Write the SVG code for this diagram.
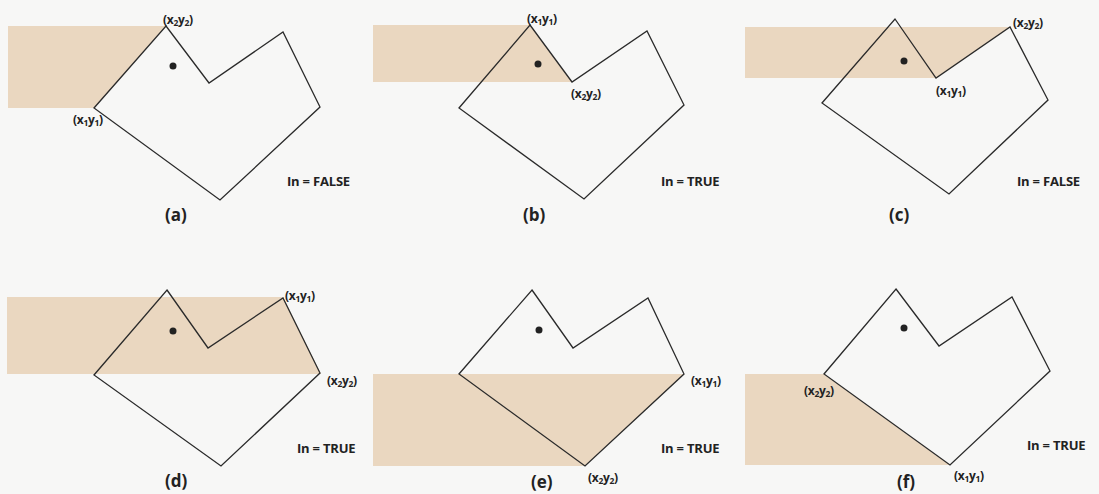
<svg xmlns="http://www.w3.org/2000/svg" width="1099" height="494" viewBox="0 0 1099 494">
<style>
.bg{fill:#f7f7f6}
.shade{fill:#ead7c0}
.poly{fill:none;stroke:#2a2a2a;stroke-width:1.3;stroke-linejoin:miter}
.dot{fill:#222}
.lbl{font-family:"Open Sans","Liberation Sans",sans-serif;font-size:12px;font-weight:700;fill:#222;letter-spacing:-0.3px}
.sub{font-size:8.5px}
.res{font-family:"Open Sans","Liberation Sans",sans-serif;font-size:13px;font-weight:700;fill:#222;letter-spacing:-0.2px}
.cap{font-family:"Open Sans","Liberation Sans",sans-serif;font-size:17px;font-weight:700;fill:#222}
</style>
<rect class="bg" x="0" y="0" width="1099" height="494"/>

<g id="panel-a">
<polygon class="shade" points="8,26 166,26 94,108 8,108"/>
<polygon class="poly" points="166,26 209,83 283,32 320,107 220,200 94,108"/>
<circle class="dot" cx="173" cy="66" r="3.5"/>
<text class="lbl" x="163" y="24">(x<tspan class="sub" dy="2">2</tspan><tspan dy="-2">y</tspan><tspan class="sub" dy="2">2</tspan><tspan dy="-2">)</tspan></text>
<text class="lbl" x="73" y="124">(x<tspan class="sub" dy="2">1</tspan><tspan dy="-2">y</tspan><tspan class="sub" dy="2">1</tspan><tspan dy="-2">)</tspan></text>
<text class="res" x="287" y="186">In = FALSE</text>
<text class="cap" x="165" y="221">(a)</text>
</g>

<g id="panel-b">
<polygon class="shade" points="373,25 530,25 572,82 373,82"/>
<polygon class="poly" points="530,25 572,82 647,31 684,105 584,199 459,108"/>
<circle class="dot" cx="538" cy="64" r="3.5"/>
<text class="lbl" x="527" y="23">(x<tspan class="sub" dy="2">1</tspan><tspan dy="-2">y</tspan><tspan class="sub" dy="2">1</tspan><tspan dy="-2">)</tspan></text>
<text class="lbl" x="571" y="98">(x<tspan class="sub" dy="2">2</tspan><tspan dy="-2">y</tspan><tspan class="sub" dy="2">2</tspan><tspan dy="-2">)</tspan></text>
<text class="res" x="661" y="186">In = TRUE</text>
<text class="cap" x="523" y="221">(b)</text>
</g>

<g id="panel-c">
<polygon class="shade" points="745,27 1010,27 936,78 745,78"/>
<polygon class="poly" points="895,19 936,78 1010,27 1048,100 949,194 822,103"/>
<circle class="dot" cx="904" cy="61" r="3.5"/>
<text class="lbl" x="1013" y="27">(x<tspan class="sub" dy="2">2</tspan><tspan dy="-2">y</tspan><tspan class="sub" dy="2">2</tspan><tspan dy="-2">)</tspan></text>
<text class="lbl" x="936" y="95">(x<tspan class="sub" dy="2">1</tspan><tspan dy="-2">y</tspan><tspan class="sub" dy="2">1</tspan><tspan dy="-2">)</tspan></text>
<text class="res" x="1017" y="186">In = FALSE</text>
<text class="cap" x="889" y="221">(c)</text>
</g>

<g id="panel-d">
<polygon class="shade" points="7,297 283,297 321,374 7,374"/>
<polygon class="poly" points="167,290 208,348 283,298 320,373 221,466 94,375"/>
<circle class="dot" cx="173" cy="331" r="3.5"/>
<text class="lbl" x="285" y="300">(x<tspan class="sub" dy="2">1</tspan><tspan dy="-2">y</tspan><tspan class="sub" dy="2">1</tspan><tspan dy="-2">)</tspan></text>
<text class="lbl" x="327" y="385">(x<tspan class="sub" dy="2">2</tspan><tspan dy="-2">y</tspan><tspan class="sub" dy="2">2</tspan><tspan dy="-2">)</tspan></text>
<text class="res" x="297" y="453">In = TRUE</text>
<text class="cap" x="165" y="487">(d)</text>
</g>

<g id="panel-e">
<polygon class="shade" points="373,374 684,374 585,466 373,466"/>
<polygon class="poly" points="532,290 573,348 648,298 684,374 585,466 459,374"/>
<circle class="dot" cx="539" cy="330" r="3.5"/>
<text class="lbl" x="691" y="385">(x<tspan class="sub" dy="2">1</tspan><tspan dy="-2">y</tspan><tspan class="sub" dy="2">1</tspan><tspan dy="-2">)</tspan></text>
<text class="lbl" x="588" y="482">(x<tspan class="sub" dy="2">2</tspan><tspan dy="-2">y</tspan><tspan class="sub" dy="2">2</tspan><tspan dy="-2">)</tspan></text>
<text class="res" x="661" y="453">In = TRUE</text>
<text class="cap" x="531" y="488">(e)</text>
</g>

<g id="panel-f">
<polygon class="shade" points="745,374 824,374 950,465 745,465"/>
<polygon class="poly" points="896,289 939,346 1012,297 1050,371 950,465 824,374"/>
<circle class="dot" cx="904" cy="328" r="3.5"/>
<text class="lbl" x="804" y="395">(x<tspan class="sub" dy="2">2</tspan><tspan dy="-2">y</tspan><tspan class="sub" dy="2">2</tspan><tspan dy="-2">)</tspan></text>
<text class="lbl" x="954" y="480">(x<tspan class="sub" dy="2">1</tspan><tspan dy="-2">y</tspan><tspan class="sub" dy="2">1</tspan><tspan dy="-2">)</tspan></text>
<text class="res" x="1027" y="450">In = TRUE</text>
<text class="cap" x="897" y="488">(f)</text>
</g>
</svg>
